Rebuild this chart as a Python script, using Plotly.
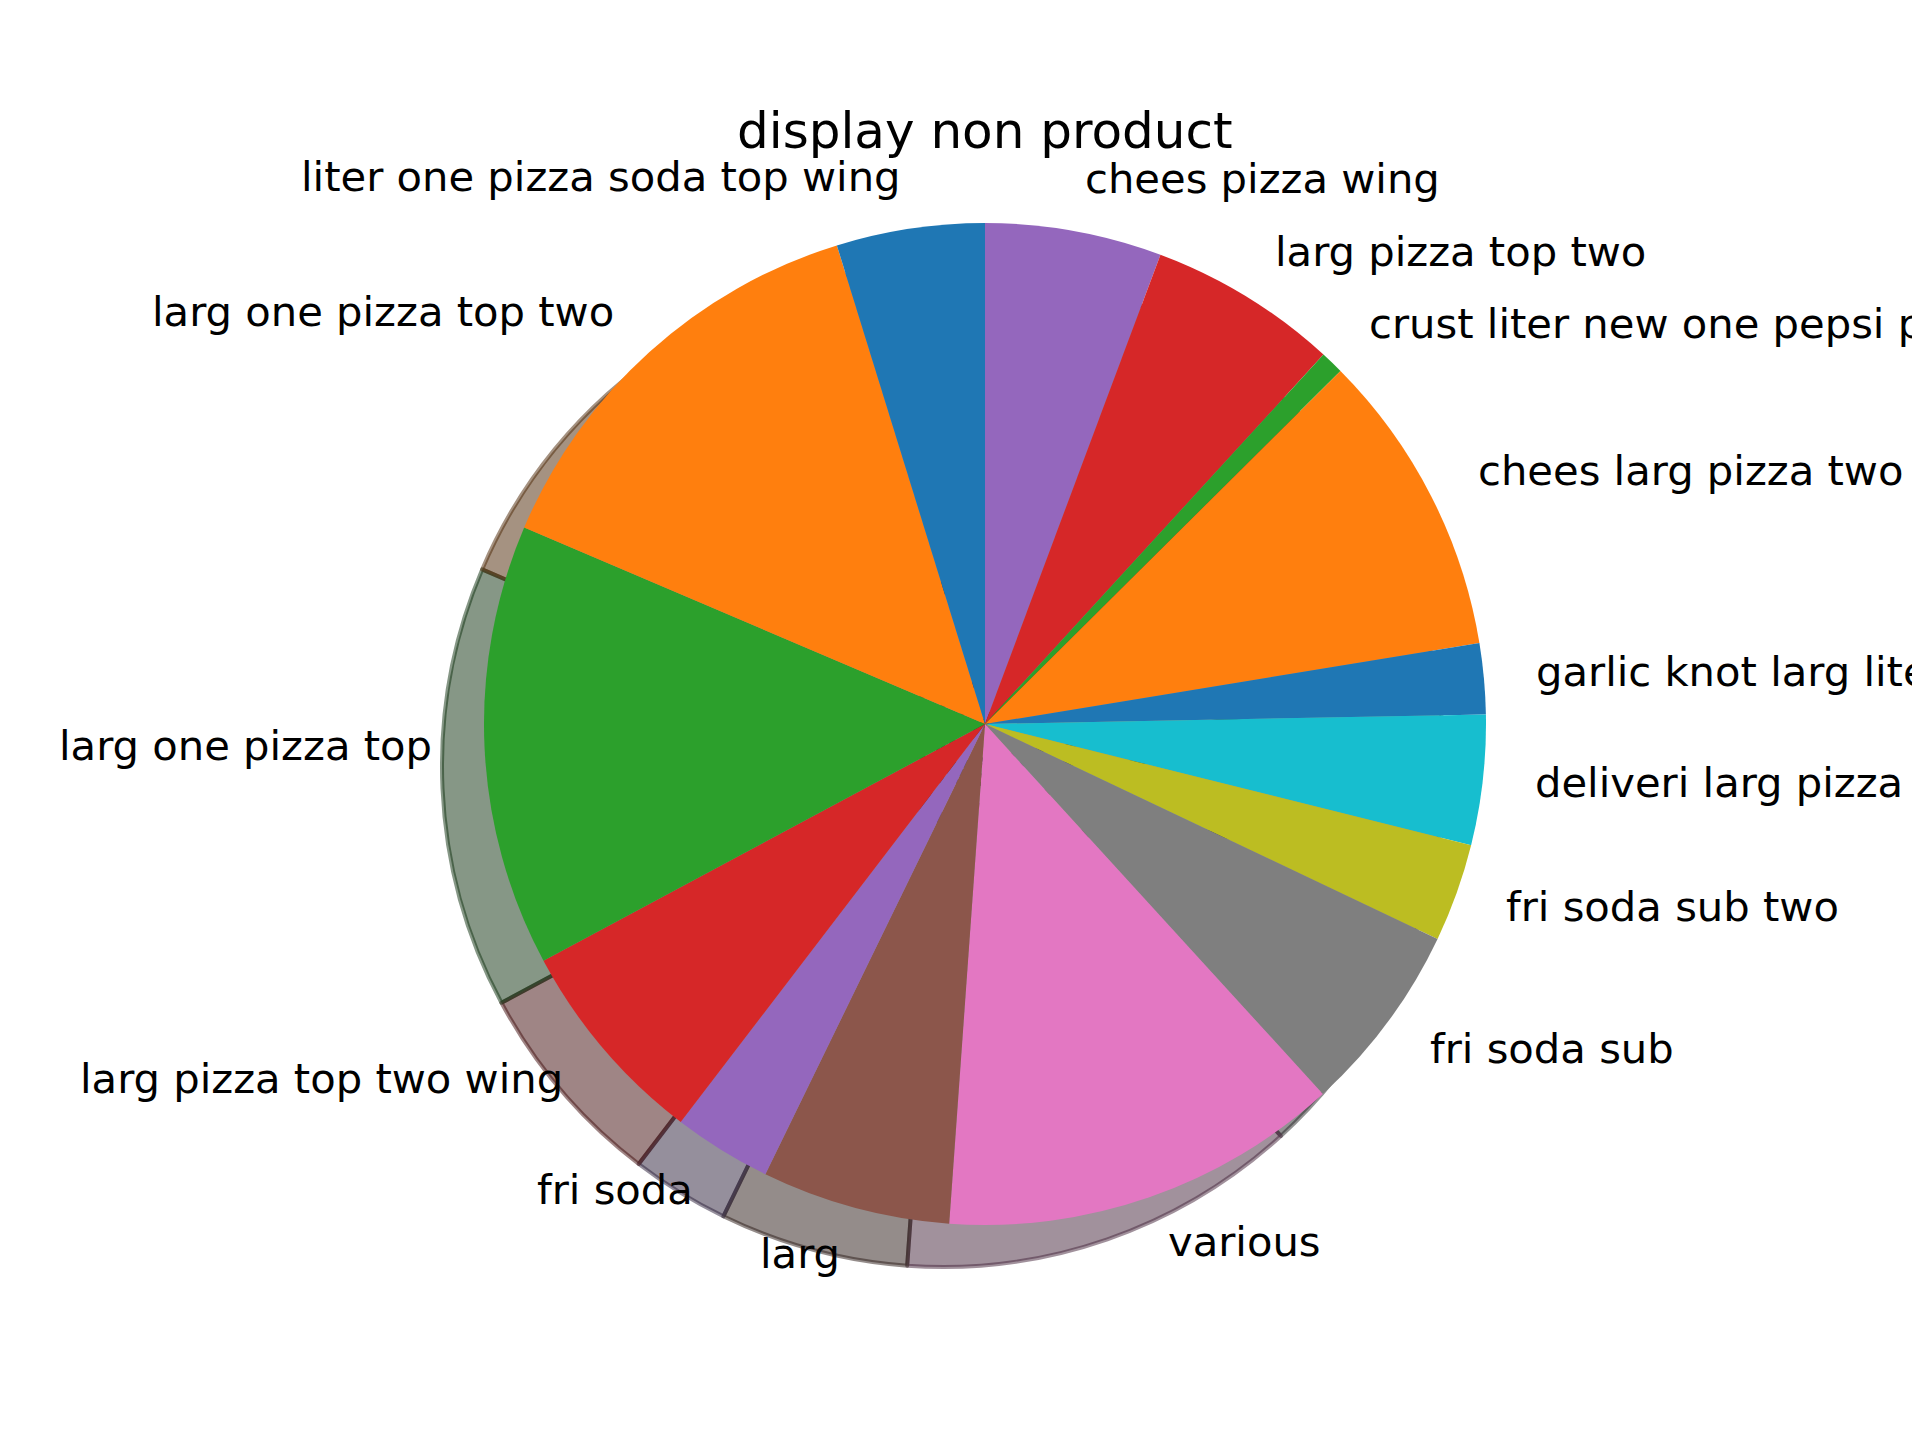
import math
import plotly.graph_objects as go

# ---- data ----
labels = [
    "liter one pizza soda top wing",
    "larg one pizza top two",
    "larg one pizza top",
    "larg pizza top two wing",
    "fri soda",
    "larg",
    "various",
    "fri soda sub",
    "fri soda sub two",
    "deliveri larg pizza sub",
    "garlic knot larg liter",
    "chees larg pizza two",
    "crust liter new one pepsi pizza",
    "larg pizza top two",
    "chees pizza wing",
]
values = [17.2, 49.7, 51.3, 24.4, 11.4, 21.9, 46.5, 22.2, 11.4, 15.1, 8.2, 35.5, 2.7, 22.0, 20.5]
title_text = "display non product"

tab10 = ['#1f77b4', '#ff7f0e', '#2ca02c', '#d62728', '#9467bd',
         '#8c564b', '#e377c2', '#7f7f7f', '#bcbd22', '#17becf']
colors = [tab10[i % 10] for i in range(len(values))]

def shadow_rgba(hexc, a=0.5):
    r = int(hexc[1:3], 16); g = int(hexc[3:5], 16); b = int(hexc[5:7], 16)
    return f"rgba({0.3*r:.0f},{0.3*g:.0f},{0.3*b:.0f},{a})"

shadow_colors = [shadow_rgba(c) for c in colors]

# ---- layout geometry ----
W, H = 1920, 1440
PAGE = 8                                # body margin of the html page
CX, CY_top, R = 985 - PAGE, 724 - PAGE, 501   # pie centre (paper px) and radius
OFF = 42                                # shadow offset (px)
CYb = H - CY_top

def dom(cx, cyb, r):
    return dict(x=[(cx - r) / W, (cx + r) / W], y=[(cyb - r) / H, (cyb + r) / H])

# slices drawn clockwise from 12 o'clock in reversed order == counter-clockwise from 12 o'clock
rl, rv = labels[::-1], values[::-1]
rc, rs = colors[::-1], shadow_colors[::-1]

fig = go.Figure()
fig.add_trace(go.Pie(
    labels=rl, values=rv, sort=False, direction="clockwise", rotation=0,
    marker=dict(colors=rs, line=dict(color=rs, width=4)),
    textinfo="none", hoverinfo="skip", showlegend=False,
    domain=dom(CX - OFF, CYb - OFF, R),
))
fig.add_trace(go.Pie(
    labels=rl, values=rv, sort=False, direction="clockwise", rotation=0,
    marker=dict(colors=rc, line=dict(width=0)),
    textinfo="none", hoverinfo="skip", showlegend=False,
    domain=dom(CX, CYb, R),
))

total = sum(values)
cum = 0.0
annotations = []
for lab, v in zip(labels, values):
    mid = math.radians(90 + (cum + v / 2) / total * 360)
    cum += v
    xt = CX + 1.1 * R * math.cos(mid)
    yt = CYb + 1.1 * R * math.sin(mid)
    annotations.append(dict(
        x=xt / W, y=yt / H, xref="paper", yref="paper", text=lab, showarrow=False,
        xanchor="left" if xt > CX else "right", yanchor="middle", yshift=3,
        font=dict(family="DejaVu Sans", size=41.7, color="black"),
    ))

annotations.append(dict(
    x=CX / W, y=(H - 123) / H, xref="paper", yref="paper", text=title_text, showarrow=False,
    xanchor="center", yanchor="middle",
    font=dict(family="DejaVu Sans", size=50, color="black"),
))

fig.update_layout(
    width=W, height=H, margin=dict(l=0, r=0, t=0, b=0),
    paper_bgcolor="white", plot_bgcolor="white",
    annotations=annotations, showlegend=False,
)

fig.write_html("out.html")
